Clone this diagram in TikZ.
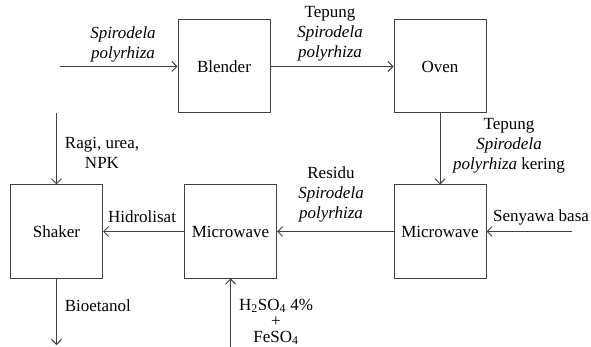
\documentclass[tikz,border=0pt]{standalone}
\usepackage{fontspec}
\setmainfont{Liberation Serif}
\usetikzlibrary{arrows.meta}
\colorlet{linecol}{black!75}

\begin{document}
\begin{tikzpicture}[x=1pt, y=-1pt, line width=1pt,
                    every node/.style={font=\fontsize{17}{20}\selectfont},
                    box/.style={draw=linecol, minimum width=92pt, minimum height=93pt, inner sep=0pt},
                    flow/.style={draw=linecol, -{Straight Barb[length=5pt, width=10pt]}}]

  \useasboundingbox (0,0) rectangle (591,347);

  % === Process boxes ===
  \node[box] (blender) at (224,66.5) {Blender};
  \node[box] (oven)    at (440,66.5) {Oven};
  \node[box] (mwR)     at (440,231.5) {Microwave};
  \node[box] (mwM)     at (230.5,231.5) {Microwave};
  \node[box] (shaker)  at (56.5,231.5) {Shaker};

  % === Free ends of the inputs and outputs ===
  \coordinate (inSp)   at (60,66.5);
  \coordinate (inRagi) at (56.5,113);
  \coordinate (outBio) at (56.5,345);
  \coordinate (inAcid) at (230.5,347);
  \coordinate (inBasa) at (572,231.5);

  % === Flow lines ===
  \draw[flow] (inSp) -- (blender.west);
  \draw[flow] (blender.east) -- (oven.west);
  \draw[flow] (oven.south) -- (mwR.north);
  \draw[flow] (inBasa) -- (mwR.east);
  \draw[flow] (mwR.west) -- (mwM.east);
  \draw[flow] (inAcid) -- (mwM.south);
  \draw[flow] (mwM.west) -- (shaker.east);
  \draw[flow] (inRagi) -- (shaker.north);
  \draw[flow] (shaker.south) -- (outBio);

  % === Labels ===
  \node[align=center] (lblSp)     at (123,44) {\textit{Spirodela}\\\textit{polyrhiza}};
  \node[align=center] (lblTepung) at (330,33.5) {Tepung\\\textit{Spirodela}\\\textit{polyrhiza}};
  \node[align=center] (lblKering) at (509,145.5) {Tepung\\\textit{Spirodela}\\\textit{polyrhiza} kering};
  \node[align=center] (lblResidu) at (331,194.5) {Residu\\\textit{Spirodela}\\\textit{polyrhiza}};
  \node (lblHidro) at (142,217) {Hidrolisat};
  \node (lblBasa)  at (541,217) {Senyawa basa};
  \node[align=center] (lblRagi) at (102,153) {Ragi, urea,\\NPK};
  \node[anchor=west] (lblBio) at (61,306) {Bioetanol};
  \node[align=center] (lblAcid) at (276,322) {H\textsubscript{2}SO\textsubscript{4} 4\%\\[-4pt]+\\[-4pt]FeSO\textsubscript{4}};

\end{tikzpicture}
\end{document}
